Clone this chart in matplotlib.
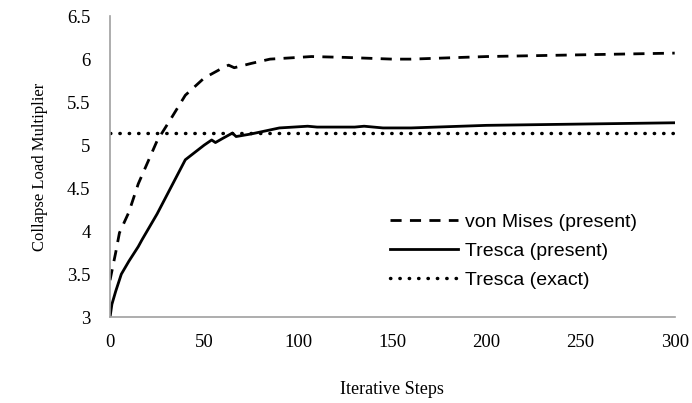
import matplotlib
matplotlib.use('Agg')
import matplotlib.pyplot as plt

# data
steps_vm = [0, 3, 5, 10, 15, 20, 25, 33, 40, 50, 60, 63, 66, 75, 85, 100, 107, 125, 150, 160, 200, 250, 300]
von_mises = [3.43, 3.75, 3.98, 4.22, 4.55, 4.8, 5.05, 5.33, 5.58, 5.78, 5.9, 5.93, 5.9, 5.95, 6.0, 6.02, 6.03, 6.02, 6.0, 6.0, 6.03, 6.05, 6.07]

steps_tr = [0, 1, 3, 6, 10, 15, 17, 25, 40, 50, 54, 56, 60, 65, 67, 75, 90, 105, 110, 130, 135, 145, 160, 200, 250, 300]
tresca = [3.0, 3.15, 3.3, 3.5, 3.65, 3.82, 3.9, 4.2, 4.83, 5.0, 5.06, 5.03, 5.08, 5.14, 5.10, 5.13, 5.2, 5.22, 5.21, 5.21, 5.22, 5.2, 5.2, 5.23, 5.245, 5.26]

tresca_exact = 5.14
x_ticks = [0, 50, 100, 150, 200, 250, 300]
y_ticks = [3, 3.5, 4, 4.5, 5, 5.5, 6, 6.5]

fig = plt.figure(figsize=(6.92, 4.03), dpi=100)
ax = fig.add_axes([0.159, 0.213, 0.816, 0.747])

ax.plot(steps_vm, von_mises, color='black', lw=2.0, dashes=(4, 3), label='von Mises (present)')
ax.plot(steps_tr, tresca, color='black', lw=2.0, label='Tresca (present)')
ax.plot([0, 300], [tresca_exact, tresca_exact], color='black', lw=2.5, dashes=(0.1, 2.6),
        dash_capstyle='round', label='Tresca (exact)')

ax.set_xlim(0, 300)
ax.set_ylim(3, 6.5)
ax.set_xticks(x_ticks)
ax.set_xticklabels([str(v) for v in x_ticks])
ax.set_yticks(y_ticks)
ax.set_yticklabels([('%g' % v) for v in y_ticks])

for s in ['top', 'right']:
    ax.spines[s].set_visible(False)
for s in ['left', 'bottom']:
    ax.spines[s].set_color('#a0a0a0')
    ax.spines[s].set_linewidth(1.2)

ax.tick_params(length=0, labelsize=13.5)
ax.tick_params(axis='y', pad=14)
ax.tick_params(axis='x', pad=12)
for lab in ax.get_xticklabels() + ax.get_yticklabels():
    lab.set_family('Liberation Serif')

ax.set_xlabel('Iterative Steps', family='Liberation Serif', fontsize=13, labelpad=22)
ax.set_ylabel('Collapse Load Multiplier', family='Liberation Serif', fontsize=12, labelpad=14)

leg = ax.legend(loc='center left', bbox_to_anchor=(0.496, 0.219), frameon=False,
                prop={'family': 'Liberation Sans', 'size': 14}, handlelength=3.5,
                handletextpad=0.36, labelspacing=0.58, borderpad=0, borderaxespad=0)

fig.savefig('out.png', dpi=100)
